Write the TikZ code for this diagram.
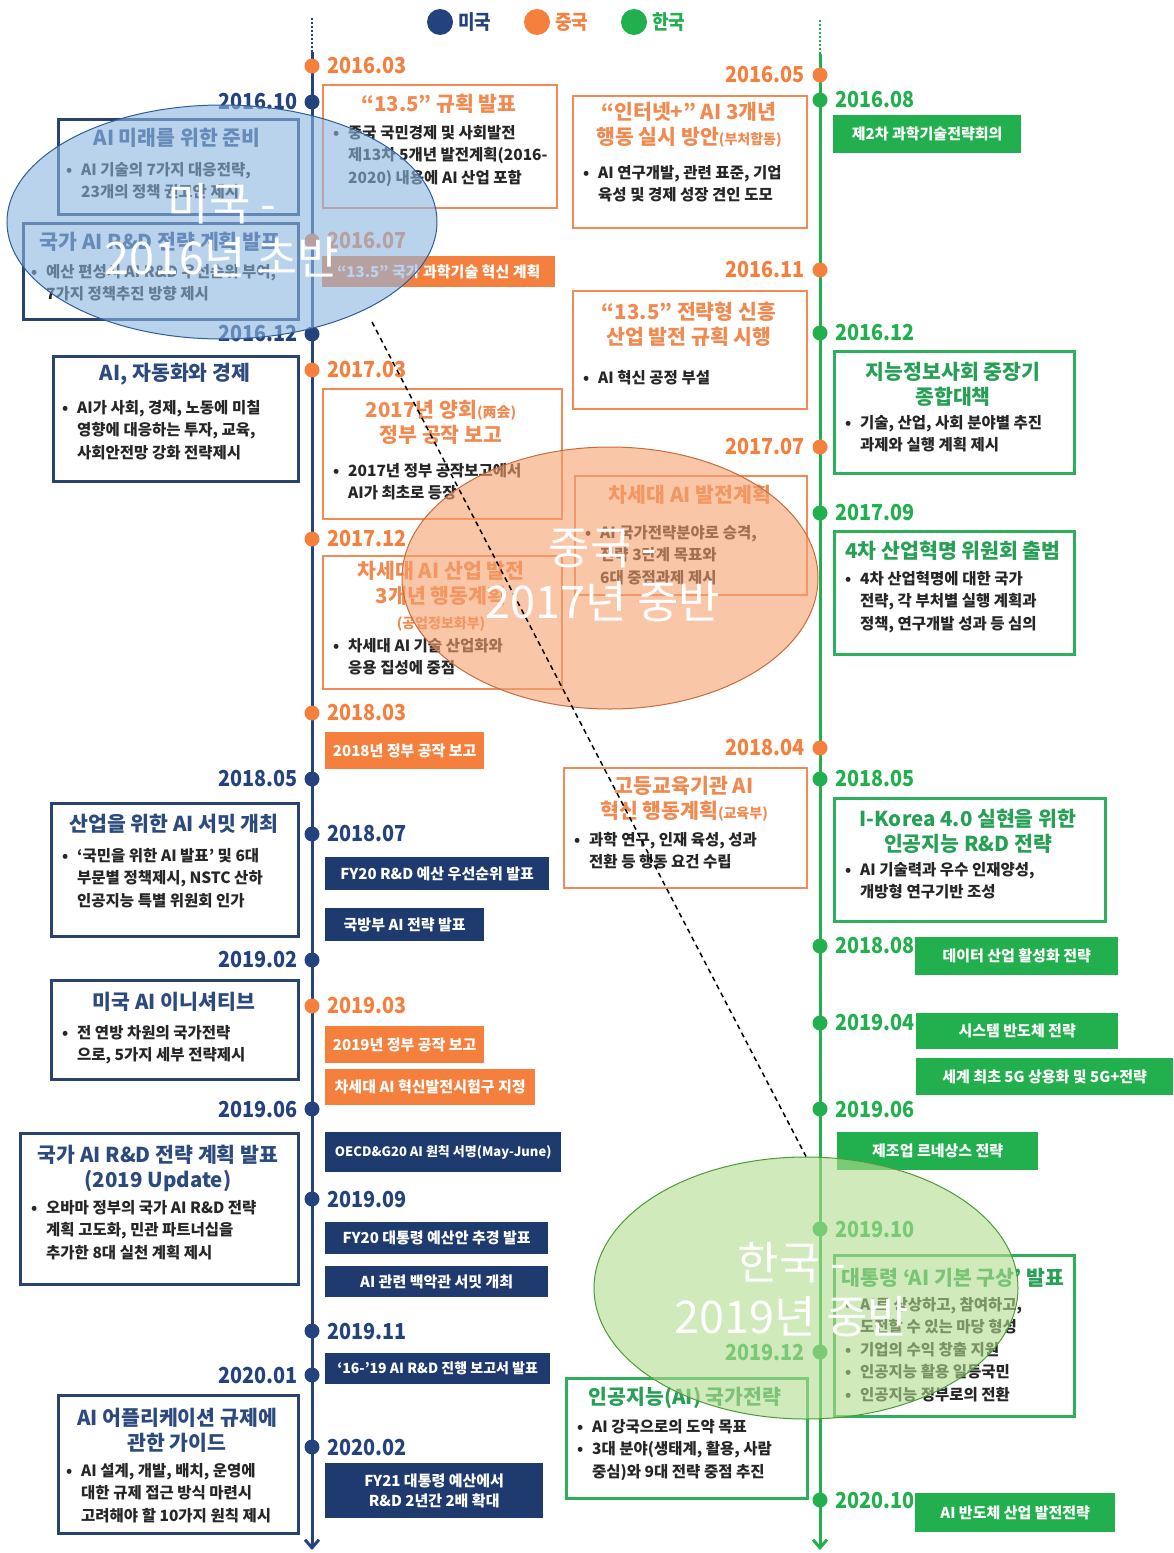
\documentclass[tikz,border=0pt]{standalone}
\usepackage{fontspec}
\setmainfont{Noto Sans CJK KR}[FakeStretch=0.9]
\newfontfamily\krn{Noto Sans CJK KR}
\usetikzlibrary{shapes.geometric,arrows.meta}
\definecolor{navyc}{HTML}{24437E}
\definecolor{navyb}{HTML}{2A4270}
\definecolor{navyt}{HTML}{2C4A7E}
\definecolor{navybar}{HTML}{1F3A6E}
\definecolor{orc}{HTML}{F5803E}
\definecolor{orb}{HTML}{F28A55}
\definecolor{ort}{HTML}{F08A50}
\definecolor{grc}{HTML}{22B04E}
\definecolor{grb}{HTML}{2EAF5C}
\definecolor{grt}{HTML}{26A054}
\definecolor{blueE}{HTML}{8DB6E2}
\definecolor{blueEd}{HTML}{2F5C9A}
\definecolor{orE}{HTML}{F5A06E}
\definecolor{orEd}{HTML}{C86A3A}
\definecolor{grE}{HTML}{B2DC8E}
\definecolor{grEd}{HTML}{4E9A3A}
\newcommand\bul{\makebox[15pt][l]{•}}
\newcommand\bulind{\hspace*{15pt}}
\newcommand\ttlf{\krn\fontsize{20.5}{25}\selectfont\bfseries}
\newcommand\bdf{\krn\fontsize{15.5}{22.5}\selectfont\bfseries}
\newcommand\barfnt{\krn\fontsize{15}{20}\selectfont\bfseries}
\newcommand\datef{\fontsize{22}{22}\selectfont\bfseries}
\newcommand\smallp{\fontsize{14}{16}\selectfont}
\begin{document}
\begin{tikzpicture}[x=1pt,y=-1pt,
  tdot/.style={circle,inner sep=0,minimum size=15},
  datel/.style={font=\datef,inner sep=0},
  tbox/.style={draw,line width=2.5,fill=white,inner sep=0,anchor=north west},
  usbox/.style={tbox,draw=navyb},
  cnbox/.style={tbox,draw=orb,line width=2.2},
  krbox/.style={tbox,draw=grb},
  ttl/.style={font=\ttlf,inner sep=0,align=center},
  bd/.style={font=\bdf,inner sep=0,align=left,anchor=north west,text=black!85},
  barn/.style={inner sep=0,anchor=north west,font=\barfnt,text=white,align=center},
  usbar/.style={barn,fill=navybar},
  cnbar/.style={barn,fill=orc},
  krbar/.style={barn,fill=grc},
  ell/.style={ellipse,inner sep=0,line width=1,fill opacity=0.6},
  etext/.style={text=white,font=\krn\fontsize{45}{54}\selectfont,align=center,inner sep=0},
  legt/.style={font=\fontsize{20}{20}\selectfont\bfseries,inner sep=0,anchor=west}
]
\useasboundingbox (0,0) rectangle (1173,1553);
\fill[white] (0,0) rectangle (1173,1553);

% legend
\node[tdot,fill=navyc,minimum size=26] (lg1) at (440,22) {};
\node[legt,text=navyc] (lg1t) at (458,22) {미국};
\node[tdot,fill=orc,minimum size=26] (lg2) at (537,22) {};
\node[legt,text=orc] (lg2t) at (555,22) {중국};
\node[tdot,fill=grc,minimum size=26] (lg3) at (634,22) {};
\node[legt,text=grc] (lg3t) at (652,22) {한국};

% timelines
\coordinate (Ltop) at (312,18);
\coordinate (Lmid) at (312,52);
\coordinate (Lbot) at (312,1550);
\coordinate (Rtop) at (820,20);
\coordinate (Rmid) at (820,54);
\coordinate (Rbot) at (820,1550);
\draw[navyc,line width=2,dotted] (Ltop) -- (Lmid);
\draw[navyc,line width=3,-{Straight Barb[length=8,width=14]}] (Lmid) -- (Lbot);
\draw[grc,line width=2,dotted] (Rtop) -- (Rmid);
\draw[grc,line width=3,-{Straight Barb[length=8,width=14]}] (Rmid) -- (Rbot);

% dots and dates: left line, labels on left
\foreach \yy/\lab/\col [count=\i] in {102/2016.10/navyc,334/2016.12/navyc,779/2018.05/navyc,960/2019.02/navyc,1109/2019.06/navyc,1375/2020.01/navyc}{
  \node[tdot,fill=\col] (la\i) at (312,\yy) {};
  \node[datel,text=\col,anchor=east] (lat\i) at (298,\yy) {\lab};
}
% left line, labels on right
\foreach \yy/\lab/\col [count=\i] in {66/2016.03/orc,241/2016.07/orc,370/2017.03/orc,539/2017.12/orc,713/2018.03/orc,834/2018.07/navyc,1006/2019.03/orc,1199/2019.09/navyc,1331/2019.11/navyc,1447/2020.02/navyc}{
  \node[tdot,fill=\col] (lb\i) at (312,\yy) {};
  \node[datel,text=\col,anchor=west] (lbt\i) at (327,\yy) {\lab};
}
% right line, labels on left
\foreach \yy/\lab/\col [count=\i] in {75/2016.05/orc,270/2016.11/orc,447/2017.07/orc,748/2018.04/orc,1352/2019.12/grc}{
  \node[tdot,fill=\col] (ra\i) at (820,\yy) {};
  \node[datel,text=\col,anchor=east] (rat\i) at (805,\yy) {\lab};
}
% right line, labels on right
\foreach \yy/\lab/\col [count=\i] in {100/2016.08/grc,333/2016.12/grc,513/2017.09/grc,779/2018.05/grc,946/2018.08/grc,1023/2019.04/grc,1109/2019.06/grc,1229/2019.10/grc,1500/2020.10/grc}{
  \node[tdot,fill=\col] (rb\i) at (820,\yy) {};
  \node[datel,text=\col,anchor=west] (rbt\i) at (835,\yy) {\lab};
}

% ---------- US boxes ----------
\node[usbox,minimum width=240,minimum height=95] (u1) at (57,118) {};
\node[ttl,text=navyt] (u1t) at (177,138) {AI 미래를 위한 준비};
\node[bd] (u1b) at (66,162) {\bul AI 기술의 7가지 대응전략,\\\bulind 23개의 정책 권고안 제시};

\node[usbox,minimum width=275,minimum height=96] (u2) at (22,222) {};
\node[ttl,text=navyt] (u2t) at (160,242) {국가 AI R\&D 전략 계획 발표};
\node[bd] (u2b) at (31,264) {\bul 예산 편성시 AI R\&D 우선순위 부여,\\\bulind 7가지 정책추진 방향 제시};

\node[usbox,minimum width=245,minimum height=125] (u3) at (52,355) {};
\node[ttl,text=navyt] (u3t) at (175,374) {AI, 자동화와 경제};
\node[bd] (u3b) at (62,400) {\bul AI가 사회, 경제, 노동에 미칠\\\bulind 영향에 대응하는 투자, 교육,\\\bulind 사회안전망 강화 전략제시};

\node[usbox,minimum width=247,minimum height=133] (u4) at (50,802) {};
\node[ttl,text=navyt] (u4t) at (174,824) {산업을 위한 AI 서밋 개최};
\node[bd] (u4b) at (62,848) {\bul ‘국민을 위한 AI 발표’ 및 6대\\\bulind 부문별 정책제시, NSTC 산하\\\bulind 인공지능 특별 위원회 인가};

\node[usbox,minimum width=247,minimum height=99] (u5) at (50,979) {};
\node[ttl,text=navyt] (u5t) at (174,1002) {미국 AI 이니셔티브};
\node[bd] (u5b) at (62,1025) {\bul 전 연방 차원의 국가전략\\\bulind 으로, 5가지 세부 전략제시};

\node[usbox,minimum width=278,minimum height=151] (u6) at (19,1132) {};
\node[ttl,text=navyt] (u6t) at (158,1168) {국가 AI R\&D 전략 계획 발표\\(2019 Update)};
\node[bd] (u6b) at (31,1200) {\bul 오바마 정부의 국가 AI R\&D 전략\\\bulind 계획 고도화, 민관 파트너십을\\\bulind 추가한 8대 실천 계획 제시};

\node[usbox,minimum width=240,minimum height=138] (u7) at (57,1394) {};
\node[ttl,text=navyt] (u7t) at (177,1430) {AI 어플리케이션 규제에\\관한 가이드};
\node[bd] (u7b) at (66,1463) {\bul AI 설계, 개발, 배치, 운영에\\\bulind 대한 규제 접근 방식 마련시\\\bulind 고려해야 할 10가지 원칙 제시};

% US bars
\node[usbar,minimum width=224,minimum height=33] (ub1) at (325,857) {FY20 R\&D 예산 우선순위 발표};
\node[usbar,minimum width=159,minimum height=33] (ub2) at (325,908) {국방부 AI 전략 발표};
\node[usbar,minimum width=236,minimum height=40,font=\krn\fontsize{13}{16}\selectfont\bfseries] (ub3) at (325,1132) {OECD\&G20 AI 원칙 서명(May-June)};
\node[usbar,minimum width=223,minimum height=32] (ub4) at (325,1222) {FY20 대통령 예산안 추경 발표};
\node[usbar,minimum width=223,minimum height=31] (ub5) at (325,1266) {AI 관련 백악관 서밋 개최};
\node[usbar,minimum width=225,minimum height=31,font=\krn\fontsize{14}{18}\selectfont\bfseries] (ub6) at (325,1353) {‘16-’19 AI R\&D 진행 보고서 발표};
\node[usbar,minimum width=218,minimum height=55] (ub7) at (325,1463) {FY21 대통령 예산에서\\R\&D 2년간 2배 확대};

% ---------- China boxes ----------
\node[cnbox,minimum width=234,minimum height=123] (c1) at (322,84) {};
\node[ttl,text=ort] (c1t) at (439,104) {“13.5” 규획 발표};
\node[bd] (c1b) at (333,125) {\bul 중국 국민경제 및 사회발전\\\bulind 제13차 5개년 발전계획(2016-\\\bulind 2020) 내용에 AI 산업 포함};

\node[cnbox,minimum width=234,minimum height=132] (c2) at (572,95) {};
\node[ttl,text=ort] (c2t) at (689,125) {“인터넷+” AI 3개년\\행동 실시 방안{\smallp(부처합동)}};
\node[bd] (c2b) at (583,165) {\bul AI 연구개발, 관련 표준, 기업\\\bulind 육성 및 경제 성장 견인 도모};

\node[cnbox,minimum width=234,minimum height=118] (c3) at (572,290) {};
\node[ttl,text=ort] (c3t) at (689,324) {“13.5” 전략형 신흥\\산업 발전 규획 시행};
\node[bd] (c3b) at (583,370) {\bul AI 혁신 공정 부설};

\node[cnbox,minimum width=239,minimum height=130] (c4) at (322,388) {};
\node[ttl,text=ort] (c4t) at (441,422) {2017년 양회{\smallp(两会)}\\정부 공작 보고};
\node[bd] (c4b) at (333,463) {\bul 2017년 정부 공작보고에서\\\bulind AI가 최초로 등장};

\node[cnbox,minimum width=232,minimum height=119] (c5) at (574,475) {};
\node[ttl,text=ort] (c5t) at (690,495) {차세대 AI 발전계획};
\node[bd] (c5b) at (585,525) {\bul AI 국가전략분야로 승격,\\\bulind 전략 3단계 목표와\\\bulind 6대 중점과제 제시};

\node[cnbox,minimum width=239,minimum height=133] (c6) at (322,555) {};
\node[ttl,text=ort] (c6t) at (441,596) {차세대 AI 산업 발전\\3개년 행동계획\\{\smallp(공업정보화부)}};
\node[bd] (c6b) at (333,638) {\bul 차세대 AI 기술 산업화와\\\bulind 응용 집성에 중점};

\node[cnbox,minimum width=243,minimum height=120] (c7) at (563,767) {};
\node[ttl,text=ort] (c7t) at (684,799) {고등교육기관 AI\\혁신 행동계획{\smallp(교육부)}};
\node[bd] (c7b) at (574,832) {\bul 과학 연구, 인재 육성, 성과\\\bulind 전환 등 행동 요건 수립};

% China bars
\node[cnbar,minimum width=233,minimum height=31] (ob1) at (322,256) {“13.5” 국가 과학기술 혁신 계획};
\node[cnbar,minimum width=159,minimum height=37] (ob2) at (325,732) {2018년 정부 공작 보고};
\node[cnbar,minimum width=159,minimum height=37] (ob3) at (325,1026) {2019년 정부 공작 보고};
\node[cnbar,minimum width=210,minimum height=36] (ob4) at (325,1069) {차세대 AI 혁신발전시험구 지정};

% ---------- Korea boxes ----------
\node[krbox,minimum width=240,minimum height=122] (k1) at (833,350) {};
\node[ttl,text=grt] (k1t) at (953,384) {지능정보사회 중장기\\종합대책};
\node[bd] (k1b) at (845,415) {\bul 기술, 산업, 사회 분야별 추진\\\bulind 과제와 실행 계획 제시};

\node[krbox,minimum width=240,minimum height=123] (k2) at (833,530) {};
\node[ttl,text=grt] (k2t) at (953,551) {4차 산업혁명 위원회 출범};
\node[bd] (k2b) at (845,571) {\bul 4차 산업혁명에 대한 국가\\\bulind 전략, 각 부처별 실행 계획과\\\bulind 정책, 연구개발 성과 등 심의};

\node[krbox,minimum width=271,minimum height=123] (k3) at (833,797) {};
\node[ttl,text=grt] (k3t) at (968,831) {I-Korea 4.0 실현을 위한\\인공지능 R\&D 전략};
\node[bd] (k3b) at (845,862) {\bul AI 기술력과 우수 인재양성,\\\bulind 개방형 연구기반 조성};

\node[krbox,minimum width=240,minimum height=161] (k4) at (833,1254) {};
\node[ttl,text=grt] (k4t) at (953,1278) {대통령 ‘AI 기본 구상’ 발표};
\node[bd] (k4b) at (845,1297) {\bul AI로 상상하고, 참여하고,\\\bulind 도전할 수 있는 마당 형성\\\bul 기업의 수익 창출 지원\\\bul 인공지능 활용 일등국민\\\bul 인공지능 정부로의 전환};

\node[krbox,minimum width=241,minimum height=120] (k5) at (565,1377) {};
\node[ttl,text=grt] (k5t) at (685,1398) {인공지능(AI) 국가전략};
\node[bd] (k5b) at (577,1419) {\bul AI 강국으로의 도약 목표\\\bul 3대 분야(생태계, 활용, 사람\\\bulind 중심)와 9대 전략 중점 추진};

% Korea bars
\node[krbar,minimum width=188,minimum height=38] (gb1) at (833,115) {제2차 과학기술전략회의};
\node[krbar,minimum width=203,minimum height=38] (gb2) at (915,937) {데이터 산업 활성화 전략};
\node[krbar,minimum width=202,minimum height=36] (gb3) at (916,1013) {시스템 반도체 전략};
\node[krbar,minimum width=257,minimum height=37] (gb4) at (916,1058) {세계 최초 5G 상용화 및 5G+전략};
\node[krbar,minimum width=201,minimum height=38] (gb5) at (837,1132) {제조업 르네상스 전략};
\node[krbar,minimum width=200,minimum height=39] (gb6) at (915,1493) {AI 반도체 산업 발전전략};

% ---------- ellipses ----------
\node[ell,fill=blueE,draw=blueEd,minimum width=430,minimum height=234] (eU) at (222,222) {};
\node[ell,fill=orE,draw=orEd,minimum width=416,minimum height=262] (eC) at (610,578) {};
\node[ell,fill=grE,draw=grEd,minimum width=424,minimum height=262] (eK) at (806,1288) {};

\coordinate (dashS) at (372,322);
\draw[black,line width=1.5,dash pattern=on 5pt off 4pt] (dashS) -- (eK.north);

\node[etext] (eUt) at (222,230) {미국 -\\2016년 초반};
\node[etext] (eCt) at (603,576) {중국 -\\2017년 중반};
\node[etext] (eKt) at (792,1290) {한국 -\\2019년 중반};
\end{tikzpicture}
\end{document}
